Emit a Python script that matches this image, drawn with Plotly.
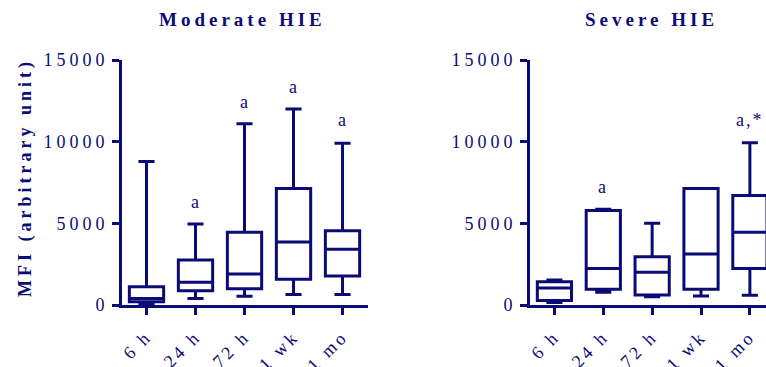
import plotly.graph_objects as go

# Time points after birth
timepoints = ["6 h", "24 h", "72 h", "1 wk", "1 mo"]

# Moderate HIE: box summaries of MFI (arbitrary unit)
mod_low = [60, 400, 530, 650, 650]
mod_q1 = [200, 880, 1000, 1570, 1780]
mod_median = [400, 1400, 1900, 3860, 3410]
mod_q3 = [1120, 2760, 4450, 7140, 4550]
mod_high = [8780, 4960, 11100, 12000, 9900]

# Severe HIE: box summaries of MFI (arbitrary unit)
sev_low = [160, 780, 510, 550, 590]
sev_q1 = [270, 960, 610, 960, 2240]
sev_median = [1040, 2240, 2000, 3120, 4450]
sev_q3 = [1430, 5780, 2960, 7140, 6710]
sev_high = [1530, 5860, 5000, 7140, 9940]

# Significance marks above boxes
mod_marks = {"24 h": ("a", 6300), "72 h": ("a", 12430), "1 wk": ("a", 13350), "1 mo": ("a", 11330)}
sev_marks = {"24 h": ("a", 7220), "1 mo": ("a,*", 11330)}

y_ticks = [0, 5000, 10000, 15000]

NAVY = "#0b0b78"
SERIF = "Liberation Serif"
W, H = 766, 367
PLOT_TOP, PLOT_BOT = 60, 305


def spaced(text, px):
    return f'<span style="letter-spacing:{px}px">{text}</span>'


def px_y(ypix):
    """Paper y for a pixel row measured from the top of the canvas."""
    return (PLOT_BOT - ypix) / (PLOT_BOT - PLOT_TOP)


fig = go.Figure()

for q1, med, q3, lo, hi, xa, ya in [
    (mod_q1, mod_median, mod_q3, mod_low, mod_high, "x", "y"),
    (sev_q1, sev_median, sev_q3, sev_low, sev_high, "x2", "y2"),
]:
    fig.add_trace(go.Box(
        x=timepoints, q1=q1, median=med, q3=q3,
        lowerfence=lo, upperfence=hi,
        boxpoints=False, width=0.7, whiskerwidth=0.47,
        line=dict(color=NAVY, width=3), fillcolor="white",
        xaxis=xa, yaxis=ya, showlegend=False, hoverinfo="skip",
    ))

axis_common = dict(
    showline=True, linecolor=NAVY, linewidth=3,
    ticks="outside", ticklen=7, tickwidth=3, tickcolor=NAVY,
    showgrid=False, zeroline=False, automargin=False,
    tickfont=dict(family=SERIF, size=18, color=NAVY),
)

xcommon = dict(
    axis_common, type="category", categoryorder="array", categoryarray=timepoints,
    tickangle=-45, tickvals=timepoints, ticktext=[spaced(t, 3) for t in timepoints],
    ticklabelstandoff=4,
)
ycommon = dict(
    axis_common, range=[0, 15000], tickvals=y_ticks,
    ticktext=[spaced(str(v), 4) for v in y_ticks],
)

fig.update_layout(
    width=W, height=H,
    margin=dict(l=0, r=0, t=PLOT_TOP, b=H - PLOT_BOT, autoexpand=False),
    paper_bgcolor="white", plot_bgcolor="white",
    xaxis=dict(xcommon, domain=[122 / W, 368 / W], range=[-0.5, 4.52], anchor="y"),
    yaxis=dict(ycommon, domain=[0, 1], anchor="x"),
    xaxis2=dict(xcommon, domain=[530 / W, 1.0], range=[-0.5, 4.33], anchor="y2"),
    yaxis2=dict(ycommon, domain=[0, 1], anchor="x2"),
)

annotations = []
for marks, xr, yr in [(mod_marks, "x", "y"), (sev_marks, "x2", "y2")]:
    for cat, (label, yv) in marks.items():
        annotations.append(dict(
            x=cat, y=yv, xref=xr, yref=yr, text=spaced(label, 2), showarrow=False,
            xanchor="center", yanchor="middle",
            font=dict(family=SERIF, size=18, color=NAVY),
        ))

# Panel titles and y-axis title
annotations.append(dict(
    x=243 / W, y=px_y(19), xref="paper", yref="paper", yanchor="middle", xanchor="center",
    text=spaced("<b>Moderate HIE</b>", 4), showarrow=False,
    font=dict(family=SERIF, size=19, color=NAVY),
))
annotations.append(dict(
    x=651 / W, y=px_y(19), xref="paper", yref="paper", yanchor="middle", xanchor="center",
    text=spaced("<b>Severe HIE</b>", 4), showarrow=False,
    font=dict(family=SERIF, size=19, color=NAVY),
))
annotations.append(dict(
    x=25 / W, y=px_y(178), xref="paper", yref="paper", yanchor="middle", xanchor="center",
    text=spaced("<b>MFI (arbitrary unit)</b>", 4), textangle=-90, showarrow=False,
    font=dict(family=SERIF, size=18, color=NAVY),
))

fig.update_layout(annotations=annotations)

fig.write_html("out.html")
